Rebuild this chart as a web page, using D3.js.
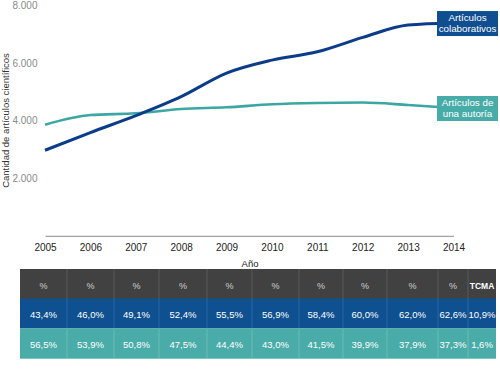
<!DOCTYPE html>
<html>
<head>
<meta charset="utf-8">
<script src="https://cdn.jsdelivr.net/npm/d3@7"></script>
<style>
  html, body { margin: 0; padding: 0; background: #fff; }
  svg { display: block; font-family: "Liberation Sans", Arial, Helvetica, sans-serif; }
</style>
</head>
<body>
<svg id="chart" width="500" height="375"></svg>
<script>
// ---- data ----
const years = [2005, 2006, 2007, 2008, 2009, 2010, 2011, 2012, 2013, 2014];
const collaborative = [2975, 3590, 4180, 4840, 5660, 6110, 6400, 6900, 7330, 7400];
const singleAuthor = [3865, 4200, 4260, 4410, 4470, 4575, 4620, 4635, 4550, 4445];
const collabPct = ["43,4%", "46,0%", "49,1%", "52,4%", "55,5%", "56,9%", "58,4%", "60,0%", "62,0%", "62,6%"];
const singlePct = ["56,5%", "53,9%", "50,8%", "47,5%", "44,4%", "43,0%", "41,5%", "39,9%", "37,9%", "37,3%"];
const tcma = ["10,9%", "1,6%"];
const yTicks = [2000, 4000, 6000, 8000];
const seriesNames = [["Artículos", "colaborativos"], ["Artículos de", "una autoría"]];

// ---- layout ----
const svg = d3.select("#chart");
const x = d3.scaleLinear().domain([2005, 2014]).range([45, 453.5]);
const y = d3.scaleLinear().domain([0, 8000]).range([235.8, 5.8]);
const colEdges = [20, 67, 114, 159, 207, 252, 299, 343, 387, 438, 468, 496];
const rowTop = [269, 298.5, 328.5];
const rowH = 30;

const fmt = d => d3.format(",")(d).replace(/,/g, ".");

// y labels (no axis line)
svg.append("g").selectAll("text").data(yTicks).join("text")
  .attr("x", 37.5).attr("y", d => y(d)).attr("dy", "0.35em")
  .attr("text-anchor", "end").attr("font-size", 10).attr("fill", "#8a8a8a")
  .text(fmt);

// x axis
const xAxis = d3.axisBottom(x).tickValues(years).tickFormat(d3.format("d")).tickSize(0).tickPadding(8);
const gx = svg.append("g").attr("transform", `translate(0,${y(0)})`).call(xAxis);
gx.select(".domain").attr("stroke", "#8c8c8c").attr("stroke-width", 1);
gx.selectAll("text").attr("font-size", 10).attr("fill", "#222").attr("font-family", "Liberation Sans, Arial, sans-serif");

// axis titles
svg.append("text").attr("x", 250).attr("y", 266.5).attr("text-anchor", "middle")
  .attr("font-size", 9.5).attr("fill", "#222").text("Año");
svg.append("text").attr("transform", "translate(8.5,120.5) rotate(-90)")
  .attr("text-anchor", "middle").attr("font-size", 9.5).attr("fill", "#333")
  .text("Cantidad de artículos científicos");

// lines
const line = d3.line().x((d, i) => x(years[i])).y(d => y(d)).curve(d3.curveMonotoneX);
svg.append("path").datum(singleAuthor).attr("d", line)
  .attr("fill", "none").attr("stroke", "#3ba6a3").attr("stroke-width", 2.6);
svg.append("path").datum(collaborative).attr("d", line)
  .attr("fill", "none").attr("stroke", "#0b3c89").attr("stroke-width", 3);

// end labels
const boxColors = ["#0f4e90", "#47aca8"];
[collaborative, singleAuthor].forEach((s, k) => {
  const cy = y(s[s.length - 1]);
  const g = svg.append("g");
  g.append("rect").attr("x", 437).attr("y", cy - 12).attr("width", 61).attr("height", 25)
    .attr("fill", boxColors[k]);
  g.selectAll("text").data(seriesNames[k]).join("text")
    .attr("x", 467.5).attr("y", (d, i) => cy - 2.5 + i * 11.5)
    .attr("text-anchor", "middle").attr("font-size", 9.8).attr("fill", "#fff")
    .text(d => d);
});

// table
const rowFills = ["#414141", "#0f5090", "#4aaca8"];
const sepColors = ["#5a5a5a", "#2b66a2", "#68bcb8"];
const rows = [
  years.map(() => "%").concat(["TCMA"]),
  collabPct.concat([tcma[0]]),
  singlePct.concat([tcma[1]])
];
const tbl = svg.append("g");
rows.forEach((r, ri) => {
  tbl.append("rect").attr("x", colEdges[0]).attr("y", rowTop[ri])
    .attr("width", colEdges[colEdges.length - 1] - colEdges[0]).attr("height", rowH)
    .attr("fill", rowFills[ri]);
  tbl.selectAll(null).data(colEdges.slice(1, -1)).join("line")
    .attr("x1", d => d).attr("x2", d => d)
    .attr("y1", rowTop[ri]).attr("y2", rowTop[ri] + rowH)
    .attr("stroke", sepColors[ri]).attr("stroke-width", 1);
  tbl.selectAll(null).data(r).join("text")
    .attr("x", (d, i) => (colEdges[i] + colEdges[i + 1]) / 2)
    .attr("y", rowTop[ri] + rowH / 2 + 4.5)
    .attr("text-anchor", "middle")
    .attr("font-size", (d, i) => ri === 0 ? (i === 10 ? 8.5 : 9) : 9.5)
    .attr("font-weight", (d, i) => ri === 0 && i === 10 ? "bold" : "normal")
    .attr("fill", (d, i) => ri === 0 ? (i === 10 ? "#fff" : "#d0d0d0") : "#fff")
    .text(d => d);
});
tbl.append("line").attr("x1", colEdges[0]).attr("x2", colEdges[colEdges.length - 1])
  .attr("y1", rowTop[2] + rowH).attr("y2", rowTop[2] + rowH)
  .attr("stroke", "#7cc6c2").attr("stroke-width", 1);
</script>
</body>
</html>
